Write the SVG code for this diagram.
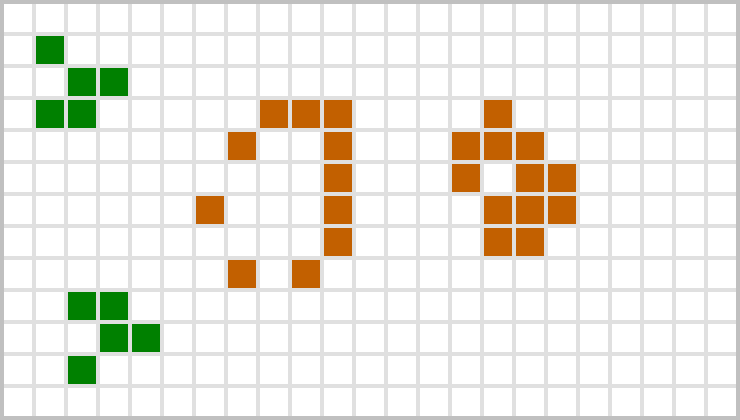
<svg xmlns="http://www.w3.org/2000/svg" width="740" height="420" viewBox="0 0 740 420">
<defs>
<pattern id="grid" x="0" y="0" width="32" height="32" patternUnits="userSpaceOnUse">
<rect x="0" y="0" width="32" height="32" fill="#e0e0e0"/>
<rect x="4" y="4" width="28" height="28" fill="#ffffff"/>
</pattern>
</defs>
<style>
.g{fill:#008000}
.o{fill:#c26000}
</style>
<rect x="0" y="0" width="740" height="420" fill="url(#grid)"/>
<rect x="2" y="2" width="736" height="416" fill="none" stroke="#c0c0c0" stroke-width="4"/>
<g id="glider-top" class="g">
<rect x="36" y="36" width="28" height="28"/>
<rect x="68" y="68" width="28" height="28"/>
<rect x="100" y="68" width="28" height="28"/>
<rect x="36" y="100" width="28" height="28"/>
<rect x="68" y="100" width="28" height="28"/>
</g>
<g id="glider-bottom" class="g">
<rect x="68" y="292" width="28" height="28"/>
<rect x="100" y="292" width="28" height="28"/>
<rect x="100" y="324" width="28" height="28"/>
<rect x="132" y="324" width="28" height="28"/>
<rect x="68" y="356" width="28" height="28"/>
</g>
<g id="pattern-middle" class="o">
<rect x="260" y="100" width="28" height="28"/>
<rect x="292" y="100" width="28" height="28"/>
<rect x="324" y="100" width="28" height="28"/>
<rect x="228" y="132" width="28" height="28"/>
<rect x="324" y="132" width="28" height="28"/>
<rect x="324" y="164" width="28" height="28"/>
<rect x="196" y="196" width="28" height="28"/>
<rect x="324" y="196" width="28" height="28"/>
<rect x="324" y="228" width="28" height="28"/>
<rect x="228" y="260" width="28" height="28"/>
<rect x="292" y="260" width="28" height="28"/>
</g>
<g id="pattern-right" class="o">
<rect x="484" y="100" width="28" height="28"/>
<rect x="452" y="132" width="28" height="28"/>
<rect x="484" y="132" width="28" height="28"/>
<rect x="516" y="132" width="28" height="28"/>
<rect x="452" y="164" width="28" height="28"/>
<rect x="516" y="164" width="28" height="28"/>
<rect x="548" y="164" width="28" height="28"/>
<rect x="484" y="196" width="28" height="28"/>
<rect x="516" y="196" width="28" height="28"/>
<rect x="548" y="196" width="28" height="28"/>
<rect x="484" y="228" width="28" height="28"/>
<rect x="516" y="228" width="28" height="28"/>
</g>
</svg>
